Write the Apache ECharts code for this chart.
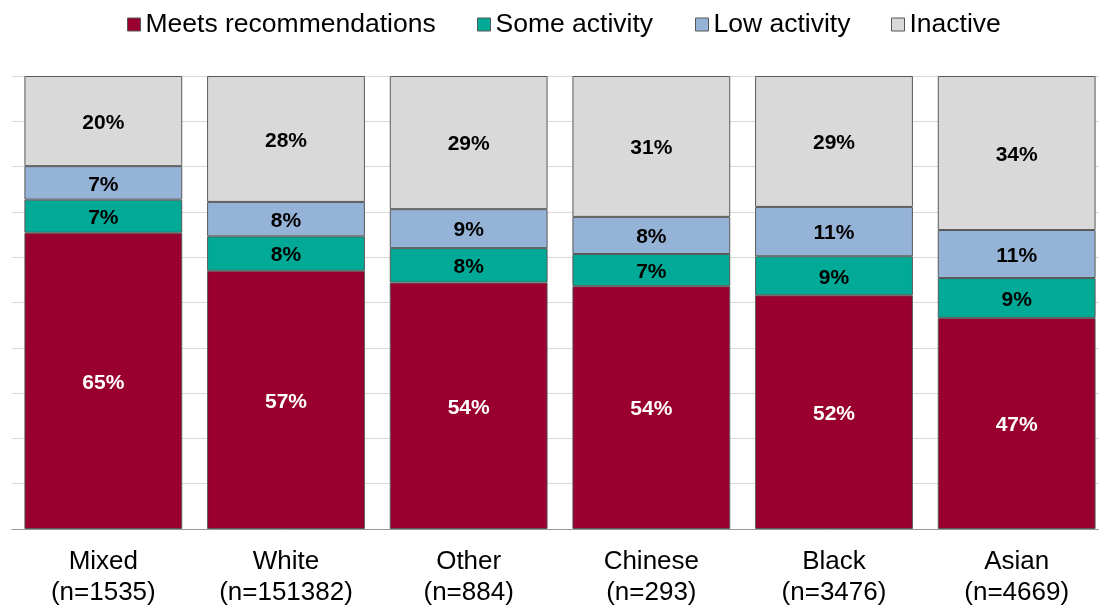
<!DOCTYPE html>
<html><head><meta charset="utf-8">
<script src="https://cdn.jsdelivr.net/npm/echarts@6/dist/echarts.min.js"></script>
<style>html,body{margin:0;padding:0;background:#fff}#c{width:1099px;height:606px}</style>
</head><body><div id="c"></div>
<script>
const categories = ['Mixed\n(n=1535)', 'White\n(n=151382)', 'Other\n(n=884)', 'Chinese\n(n=293)', 'Black\n(n=3476)', 'Asian\n(n=4669)'];
const seriesNames = ['Meets recommendations', 'Some activity', 'Low activity', 'Inactive'];
const meets = [65.4, 57.0, 54.4, 53.6, 51.6, 46.6];
const some = [7.3, 7.6, 7.6, 7.1, 8.6, 8.8];
const low = [7.4, 7.6, 8.6, 8.2, 10.9, 10.6];
const inactive = [19.9, 27.8, 29.4, 31.1, 28.9, 34.0];
const colors = ['#990030', '#00AA96', '#95B3D7', '#D9D9D9'];
const labelColors = ['#ffffff', '#000000', '#000000', '#000000'];
const allData = [meets, some, low, inactive];
const legendLefts = [127, 477, 695, 891];
const FONT = 'Liberation Sans, Arial, sans-serif';

const chart = echarts.init(document.getElementById('c'), null, {renderer: 'canvas'});
chart.setOption({
  animation: false,
  textStyle: {fontFamily: FONT},
  legend: seriesNames.map((n, i) => ({
    top: 11, left: legendLefts[i], padding: 0,
    itemWidth: 13, itemHeight: 13,
    icon: 'rect', selectedMode: false,
    textStyle: {fontSize: 26.5, color: '#000', fontFamily: FONT},
    data: [{name: n, itemStyle: {borderColor: '#555', borderWidth: 1}}]
  })),
  grid: {left: 12, top: 76, width: 1096, height: 453, containLabel: false, outerBoundsMode: 'none'},
  xAxis: {
    type: 'category', data: categories,
    axisLine: {lineStyle: {color: '#999', width: 1}},
    axisTick: {length: 10, lineStyle: {color: '#999'}},
    axisLabel: {fontSize: 26, color: '#000', lineHeight: 31, margin: 17, fontFamily: FONT}
  },
  yAxis: {
    type: 'value', min: 0, max: 100, interval: 10,
    axisLine: {show: false}, axisTick: {show: false}, axisLabel: {show: false},
    splitLine: {lineStyle: {color: '#d9d9d9', width: 1}}
  },
  series: seriesNames.map((name, i) => ({
    name: name, type: 'bar', stack: 'total',
    barCategoryGap: '13.6%',
    data: allData[i],
    itemStyle: {color: colors[i], borderColor: '#595959', borderWidth: 1},
    label: {
      show: true, position: 'inside', offset: [0, 2],
      formatter: p => Math.round(p.value) + '%',
      color: labelColors[i], fontSize: 21, fontWeight: 'bold',
      fontFamily: FONT
    }
  }))
});
</script></body></html>
